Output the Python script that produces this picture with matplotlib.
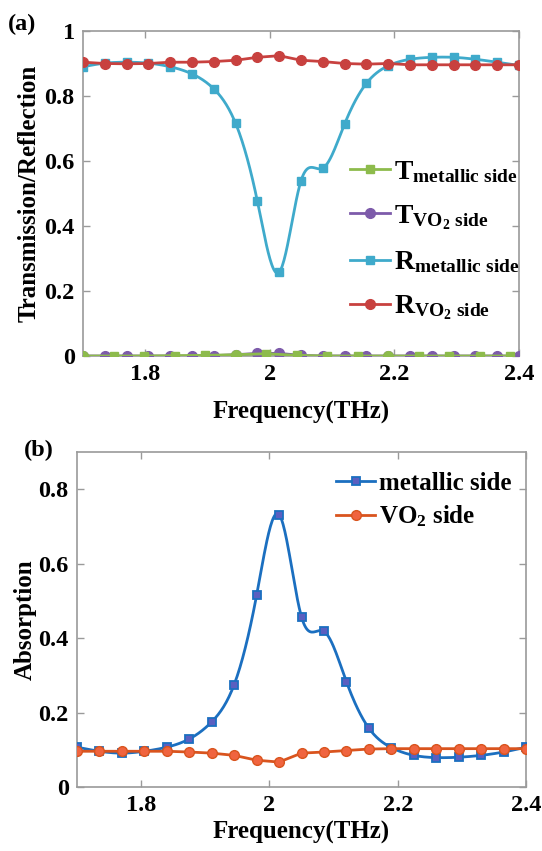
import numpy as np
import matplotlib
matplotlib.use("Agg")
import matplotlib.pyplot as plt

# frequency grid of the simulated points (THz)
freq = [1.7, 1.735, 1.77, 1.805, 1.84, 1.875, 1.91, 1.945, 1.98, 2.015, 2.05,
        2.085, 2.12, 2.155, 2.19, 2.225, 2.26, 2.295, 2.33, 2.365, 2.4]

# transmission, metallic side (sampled on its own grid)
freq_t_metal = [1.7, 1.749, 1.798, 1.847, 1.896, 1.945, 1.994, 2.043, 2.092,
                2.141, 2.19, 2.239, 2.288, 2.337, 2.386]
t_metal = [0.0, 0.0, 0.0, 0.001, 0.002, 0.004, 0.007, 0.002, 0.0,
           0.0, 0.0, 0.0, 0.0, 0.0, 0.0]

t_vo2 = [0.0, 0.0, 0.0, 0.0, 0.0, 0.0, 0.001, 0.004, 0.008, 0.008, 0.002,
         0.0, 0.0, 0.0, 0.0, 0.0, 0.0, 0.0, 0.0, 0.0, 0.0]

r_metal = [0.890, 0.901, 0.904, 0.901, 0.890, 0.868, 0.822, 0.716, 0.476, 0.258,
           0.539, 0.578, 0.714, 0.839, 0.893, 0.913, 0.919, 0.919, 0.913, 0.904, 0.894]

r_vo2 = [0.904, 0.900, 0.899, 0.900, 0.904, 0.904, 0.906, 0.910, 0.919, 0.924,
         0.910, 0.906, 0.900, 0.898, 0.900, 0.896, 0.896, 0.896, 0.896, 0.896, 0.896]

a_metal = [0.107, 0.096, 0.091, 0.096, 0.107, 0.129, 0.175, 0.275, 0.515, 0.732,
           0.457, 0.418, 0.283, 0.158, 0.106, 0.085, 0.079, 0.080, 0.085, 0.094, 0.107]

a_vo2 = [0.096, 0.096, 0.096, 0.096, 0.096, 0.094, 0.091, 0.085, 0.072, 0.067,
         0.091, 0.094, 0.098, 0.102, 0.103, 0.103, 0.103, 0.103, 0.103, 0.103, 0.103]

x_ticks = [1.8, 2.0, 2.2, 2.4]
x_ticklabels = ["1.8", "2", "2.2", "2.4"]

GREEN = "#8DBB4C"
PURPLE = "#7D5BAA"
CYAN = "#3FAACB"
RED = "#C8413F"
BLUE = "#1B6FC0"
ORANGE = "#D9541E"


def spline(x, y, n=500):
    """ Natural cubic spline through the points, for drawing a smooth line"""
    x = np.asarray(x, float)
    y = np.asarray(y, float)
    h = np.diff(x)
    m = len(x)
    A = np.zeros((m, m))
    b = np.zeros(m)
    A[0, 0] = A[-1, -1] = 1
    for i in range(1, m - 1):
        A[i, i - 1] = h[i - 1]
        A[i, i] = 2 * (h[i - 1] + h[i])
        A[i, i + 1] = h[i]
        b[i] = 6 * ((y[i + 1] - y[i]) / h[i] - (y[i] - y[i - 1]) / h[i - 1])
    M = np.linalg.solve(A, b)
    xs = np.linspace(x[0], x[-1], n)
    k = np.clip(np.searchsorted(x, xs) - 1, 0, m - 2)
    t1 = x[k + 1] - xs
    t0 = xs - x[k]
    hk = h[k]
    ys = (M[k] * t1**3 + M[k + 1] * t0**3) / (6 * hk) \
        + (y[k] / hk - M[k] * hk / 6) * t1 + (y[k + 1] / hk - M[k + 1] * hk / 6) * t0
    return xs, ys


plt.rcParams["font.family"] = ["Liberation Serif", "DejaVu Serif"]
plt.rcParams["font.weight"] = "bold"
plt.rcParams["mathtext.fontset"] = "custom"
plt.rcParams["mathtext.rm"] = "Liberation Serif:bold"
plt.rcParams["mathtext.bf"] = "Liberation Serif:bold"
plt.rcParams["mathtext.it"] = "Liberation Serif:bold"

fig = plt.figure(figsize=(5.42, 8.51), dpi=100)
W, H = 542, 851
ax1 = fig.add_axes([83 / W, 1 - 356 / H, 436 / W, 325 / H])
ax2 = fig.add_axes([77 / W, 1 - 787 / H, 449 / W, 335 / H])


def style_axes(ax, xpad):
    for s in ax.spines.values():
        s.set_color("#9A9A9A")
        s.set_linewidth(1.2)
    ax.tick_params(direction="in", top=True, right=True, length=5, width=1,
                   color="#9A9A9A", labelsize=17.5, pad=6)
    ax.set_xlim(1.7, 2.4)
    ax.set_xticks(x_ticks)
    ax.set_xticklabels(x_ticklabels)
    for lab in ax.get_xticklabels() + ax.get_yticklabels():
        lab.set_fontweight("bold")
    ax.set_xlabel("Frequency(THz)", fontsize=18, fontweight="bold", labelpad=xpad)


# (a) transmission / reflection
ax = ax1
ax.plot(freq_t_metal, t_metal, color=GREEN, lw=2, marker="s", ms=6,
        markevery=[i for i in range(len(freq_t_metal)) if i % 5 != 0], zorder=4,
        label=r"$\mathbf{T}_{\mathbf{metallic\ side}}$")
ax.plot(freq, t_vo2, color=PURPLE, lw=2, marker="o", ms=7, zorder=3,
        label=r"$\mathbf{T}_{\mathbf{VO_2\ side}}$")
ax.plot(freq_t_metal[::5], t_metal[::5], ls="none", marker="o", ms=7,
        color=GREEN, zorder=5)
xs, ys = spline(freq, r_metal)
ax.plot(xs, ys, color=CYAN, lw=2, zorder=3)
ax.plot(freq, r_metal, ls="none", marker="s", ms=6, color=CYAN, zorder=3)
ax.plot([], [], color=CYAN, lw=2, marker="s", ms=6,
        label=r"$\mathbf{R}_{\mathbf{metallic\ side}}$")
ax.plot(freq, r_vo2, color=RED, lw=2, marker="o", ms=7, zorder=3,
        label=r"$\mathbf{R}_{\mathbf{VO_2\ side}}$")
ax.set_ylim(0, 1)
ax.set_yticks([0, 0.2, 0.4, 0.6, 0.8, 1])
ax.set_yticklabels(["0", "0.2", "0.4", "0.6", "0.8", "1"])
style_axes(ax, 11)
ax.set_ylabel("Transmission/Reflection", fontsize=18, fontweight="bold", labelpad=3)
ax.legend(loc="center left", bbox_to_anchor=(0.58, 0.355), frameon=False,
          fontsize=20, handlelength=1.45, handletextpad=0.15, borderpad=0,
          labelspacing=0.65)
fig.text(22 / W, 1 - 24 / H, "(a)", fontsize=17.5, fontweight="bold",
         ha="center", va="center")

# (b) absorption
ax = ax2
xs, ys = spline(freq, a_metal)
ax.plot(xs, ys, color=BLUE, lw=2, zorder=3)
ax.plot(freq, a_metal, ls="none", marker="s", ms=5.5, color="#5A5FC0",
        mec=BLUE, mew=1.3, zorder=3)
ax.plot([], [], color=BLUE, lw=2, marker="s", ms=5.5, mfc="#5A5FC0", mec=BLUE,
        mew=1.3, label="metallic side")
ax.plot(freq, a_vo2, color=ORANGE, lw=2, marker="o", ms=7, mfc="#F0643F",
        mec=ORANGE, mew=1, zorder=4, label=r"VO$_\mathbf{2}$ side")
ax.set_ylim(0, 0.9)
ax.set_yticks([0, 0.2, 0.4, 0.6, 0.8])
ax.set_yticklabels(["0", "0.2", "0.4", "0.6", "0.8"])
style_axes(ax, 3)
ax.set_ylabel("Absorption", fontsize=18, fontweight="bold", labelpad=1)
ax.legend(loc="center left", bbox_to_anchor=(0.55, 0.855), frameon=False,
          fontsize=18, handlelength=1.55, handletextpad=0.15, borderpad=0,
          labelspacing=0.35)
fig.text(39 / W, 1 - 450 / H, "(b)", fontsize=17.5, fontweight="bold",
         ha="center", va="center")

fig.savefig("out.png", dpi=100)
